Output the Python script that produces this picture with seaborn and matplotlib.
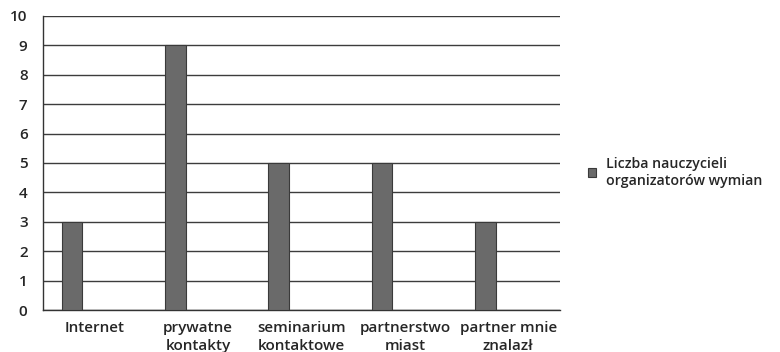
import numpy as np
import pandas as pd
import matplotlib
matplotlib.use("Agg")
import matplotlib.pyplot as plt
import seaborn as sns
from matplotlib.patches import Patch

categories = ["Internet", "prywatne\nkontakty", "seminarium\nkontaktowe", "partnerstwo\nmiast", "partner mnie\nznalazł"]
values = [3, 9, 5, 5, 3]
series_name = "Liczba nauczycieli\norganizatorów wymian"

df = pd.DataFrame({"kategoria": categories, "liczba": values})

sns.set_style("white")
plt.rcParams["font.family"] = ["Open Sans", "DejaVu Sans"]

fig = plt.figure(figsize=(7.8, 3.52), dpi=100)
ax = fig.add_axes([0.055, 0.119, 0.663, 0.836])

bar_color = "#6a6a6a"
sns.barplot(data=df, x="kategoria", y="liczba", color=bar_color, width=0.2,
            saturation=1, edgecolor="#3a3a3a", linewidth=0.8, ax=ax, zorder=3)

# Excel style: the series sits at the left of each category slot
for p in ax.patches:
    p.set_x(p.get_x() - 0.22)

ax.set_xlim(-0.5, len(categories) - 0.5)
ax.set_ylim(0, 10)
ax.set_yticks(range(0, 11))
ax.yaxis.grid(True, color="#3c3c3c", linewidth=1.0, zorder=0)
ax.set_axisbelow(True)

ax.set_xticks(range(len(categories)))
ax.set_xticklabels(categories, fontsize=11, fontweight="semibold", linespacing=1.35)
ax.set_xticks(np.arange(-0.5, len(categories)), minor=True)
ax.tick_params(axis="x", which="major", length=0, pad=8)
ax.tick_params(axis="x", which="minor", length=4, width=1, color="#333333", direction="out")
ax.tick_params(axis="y", length=4, width=1, color="#333333", direction="out", labelsize=11, pad=7)
for t in ax.get_yticklabels():
    t.set_fontweight("semibold")

ax.set_xlabel("")
ax.set_ylabel("")
for s in ["top", "right"]:
    ax.spines[s].set_visible(False)
for s in ["left", "bottom"]:
    ax.spines[s].set_color("#333333")
    ax.spines[s].set_linewidth(1.0)

handle = Patch(facecolor=bar_color, edgecolor="#3a3a3a", linewidth=0.8)
fig.legend([handle], [series_name], loc="center left", bbox_to_anchor=(0.737, 0.51),
           frameon=False, handlelength=0.6, handleheight=0.6,
           handletextpad=0.7, prop={"weight": "semibold", "size": 10.2})

fig.savefig("out.png", dpi=100)
